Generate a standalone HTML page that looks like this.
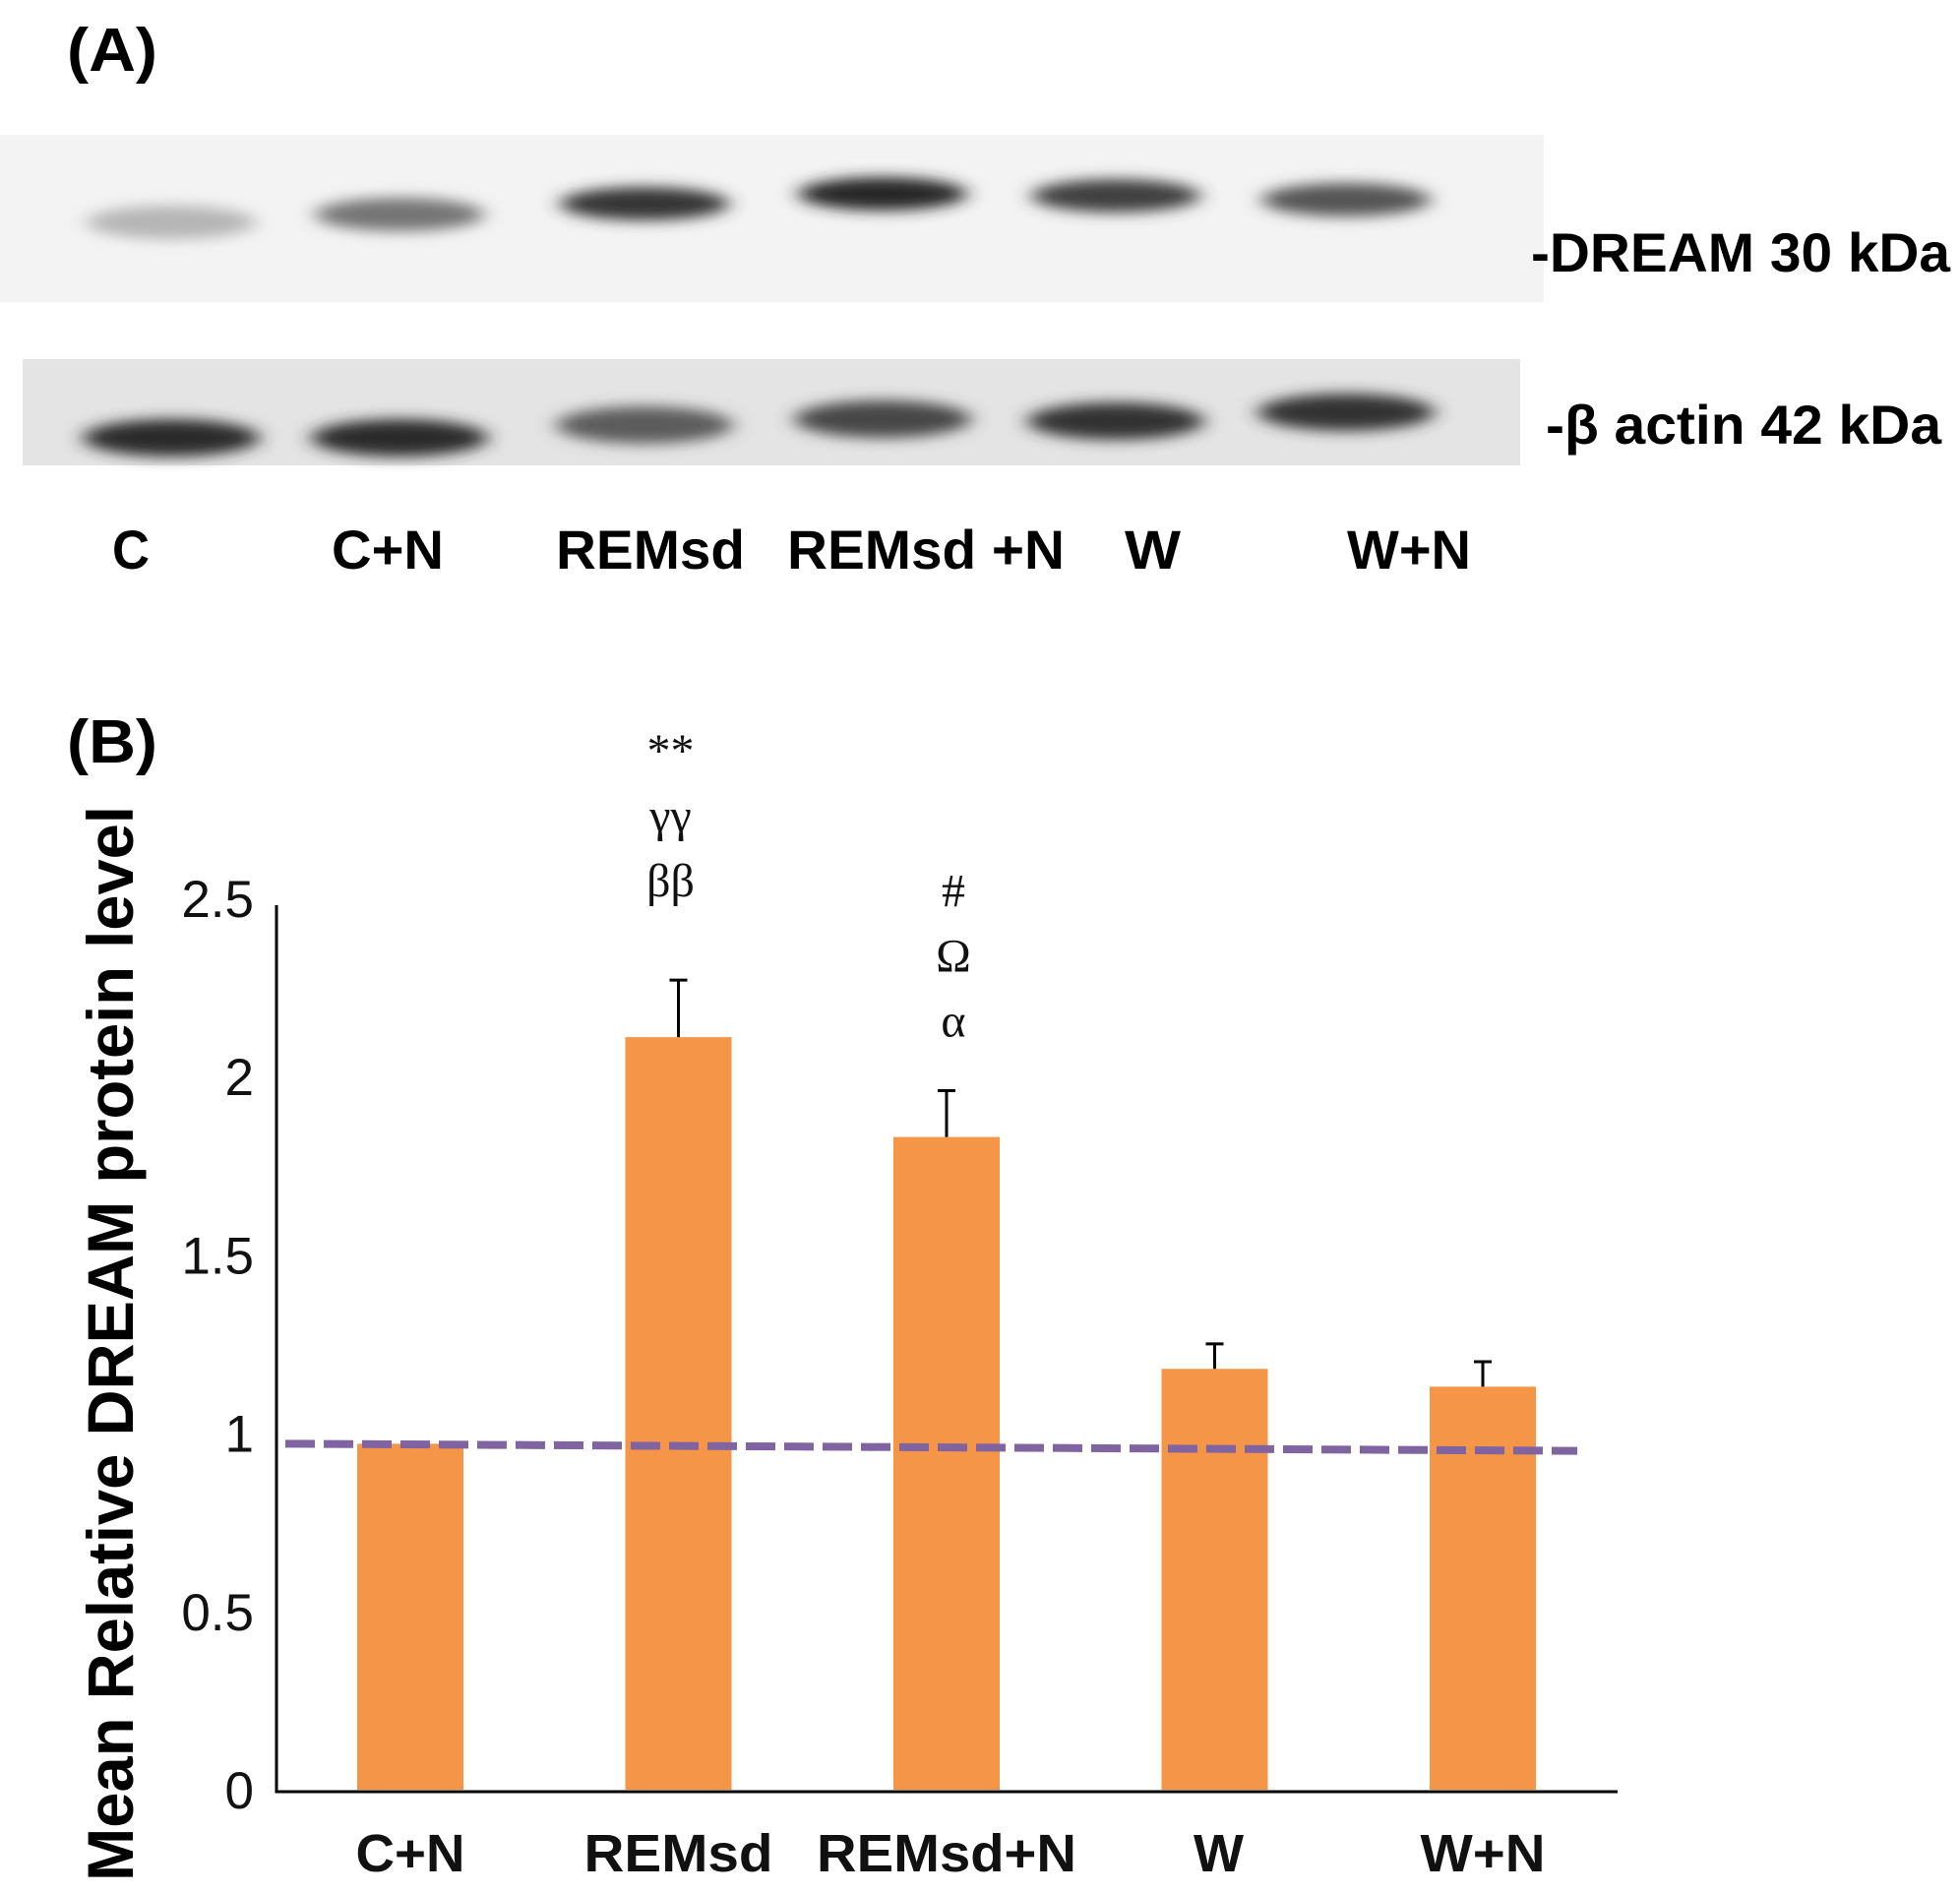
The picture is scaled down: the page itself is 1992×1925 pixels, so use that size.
<!DOCTYPE html>
<html><head><meta charset="utf-8"><style>
html,body{margin:0;padding:0;background:#fff;}
svg{display:block;}
</style></head><body>
<svg width="1992" height="1925" viewBox="0 0 1992 1925" xmlns="http://www.w3.org/2000/svg">
<defs>
<filter id="blur" x="-30%" y="-100%" width="160%" height="300%"><feGaussianBlur stdDeviation="10 7"/></filter>
</defs>
<text x="68" y="72" font-family="Liberation Sans, sans-serif" font-weight="bold" font-size="62" textLength="92" lengthAdjust="spacingAndGlyphs">(A)</text>
<rect x="0" y="137" width="1569" height="170" fill="#f3f3f3"/>
<rect x="23" y="365" width="1522" height="108" fill="#e4e4e4"/>
<g id="bands"></g>
<g font-family="Liberation Sans, sans-serif" font-weight="bold" font-size="56">
<text x="1556" y="276" textLength="426" lengthAdjust="spacingAndGlyphs">-DREAM 30 kDa</text>
<text x="1571" y="451" textLength="402" lengthAdjust="spacingAndGlyphs">-β actin 42 kDa</text>
<text x="114" y="578" textLength="38" lengthAdjust="spacingAndGlyphs">C</text>
<text x="337" y="578" textLength="114" lengthAdjust="spacingAndGlyphs">C+N</text>
<text x="565" y="578" textLength="192" lengthAdjust="spacingAndGlyphs">REMsd</text>
<text x="800" y="578" textLength="282" lengthAdjust="spacingAndGlyphs">REMsd +N</text>
<text x="1143" y="578" textLength="57" lengthAdjust="spacingAndGlyphs">W</text>
<text x="1369" y="578" textLength="126" lengthAdjust="spacingAndGlyphs">W+N</text>
</g>
<text x="68" y="775" font-family="Liberation Sans, sans-serif" font-weight="bold" font-size="62" textLength="92" lengthAdjust="spacingAndGlyphs">(B)</text>
<text transform="translate(135,1912) rotate(-90)" font-family="Liberation Sans, sans-serif" font-weight="bold" font-size="66" textLength="1093" lengthAdjust="spacingAndGlyphs">Mean Relative DREAM protein level</text>
<g id="chart"></g>
</svg>
<script>
const categories = ["C+N","REMsd","REMsd+N","W","W+N"];
const values = [0.97, 2.11, 1.83, 1.18, 1.13];
const errors = [0, 0.16, 0.13, 0.07, 0.07];
const ticks = [0, 0.5, 1, 1.5, 2, 2.5];
const tickLabels = ["0","0.5","1","1.5","2","2.5"];
const annotations = [[], ["**","γγ","ββ"], ["#","Ω","α"], [], []];
const refStart = 0.97, refEnd = 0.95;
const laneNames = ["C","C+N","REMsd","REMsd +N","W","W+N"];
const dreamIntensity = [0.25, 0.55, 0.85, 0.92, 0.8, 0.7];
const actinIntensity = [0.9, 0.9, 0.65, 0.75, 0.85, 0.85];

const NS = "http://www.w3.org/2000/svg";
function mk(tag, attrs, parent){const e=document.createElementNS(NS,tag);for(const k in attrs)e.setAttribute(k,attrs[k]);parent.appendChild(e);return e;}
const y = v => 1819 - 362.5*v;
const x = i => 417 + 272.5*i;
const bw = 108;
const labelW = [111, 192, 264, 51, 127];
const chart = document.getElementById('chart');

ticks.forEach((t,i)=>{
  const tx = mk('text',{x:258,y:y(t)+19,'text-anchor':'end','font-family':'Liberation Sans, sans-serif','font-size':'53',fill:'#111'},chart);
  
  
  tx.textContent = tickLabels[i];
});
categories.forEach((c,i)=>{
  const r = mk('rect',{x:x(i)-bw/2,y:y(values[i]),width:bw,height:y(0)-y(values[i]),fill:'#f59547'},chart);
  
  
  if(errors[i]>0){
    const g = mk('path',{d:`M${x(i)} ${y(values[i])}V${y(values[i]+errors[i])}M${x(i)-9} ${y(values[i]+errors[i])}H${x(i)+9}`,stroke:'#000','stroke-width':3,fill:'none'},chart);
    
    
  }
  const lb = mk('text',{x:x(i)-labelW[i]/2+(i===3?4:0),y:1902,'font-family':'Liberation Sans, sans-serif','font-weight':'bold','font-size':'54',fill:'#111',textLength:labelW[i],lengthAdjust:'spacingAndGlyphs'},chart);
  
  
  lb.textContent = c;
  const an = annotations[i];
  an.forEach((s,j)=>{
    const top = y(values[i]+errors[i]);
    const t = mk('text',{x:x(i)-8+(i===2?15:0),y:top-(an.length-1-j)*66-(i===1?85:55),'text-anchor':'middle','font-family':'Liberation Serif, serif','font-size':'48',fill:'#111'},chart);
    
    
    t.textContent = s;
  });
});
const ax = mk('path',{d:`M281 920V${y(0)+2}H1644`,stroke:'#000','stroke-width':3,fill:'none'},chart);


const ref = mk('line',{x1:290,y1:y(refStart),x2:1603,y2:y(refEnd),stroke:'#8064a2','stroke-width':8,'stroke-dasharray':'30 9'},chart);



const bands = document.getElementById('bands');
const laneX = [174, 406, 655, 897, 1134, 1368];
const dreamY = [226, 218, 207, 197, 199, 203];
const actinY = [445, 445, 432, 426, 428, 419];
laneNames.forEach((n,i)=>{
  const g1 = Math.round(235 - 215*dreamIntensity[i]);
  const b1 = mk('ellipse',{cx:laneX[i],cy:dreamY[i],rx:86,ry:17,fill:`rgb(${g1},${g1},${g1})`,filter:'url(#blur)'},bands);
  
  
  const g2 = Math.round(225 - 205*actinIntensity[i]);
  const b2 = mk('ellipse',{cx:laneX[i],cy:actinY[i],rx:90,ry:19,fill:`rgb(${g2},${g2},${g2})`,filter:'url(#blur)'},bands);
  
  
});
</script>
</body></html>
